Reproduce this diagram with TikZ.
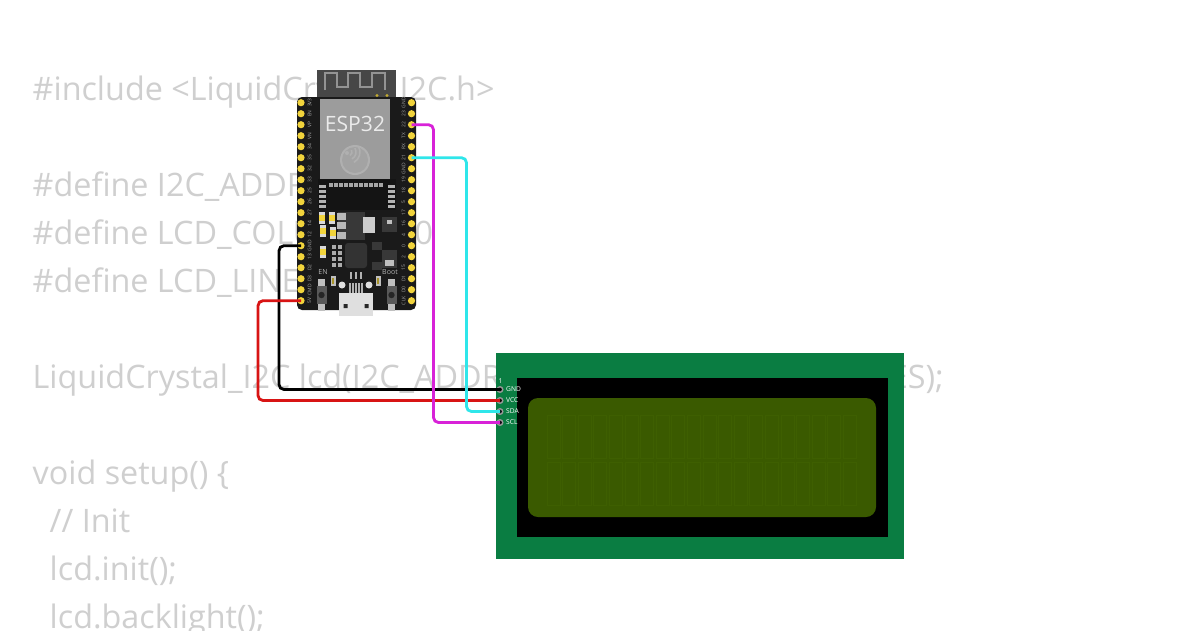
\documentclass[tikz,border=0pt]{standalone}
\usepackage{fontspec}
\setmainfont{Open Sans}
\definecolor{codegray}{HTML}{CFCFCF}
\definecolor{boardblack}{HTML}{1A1A1A}
\definecolor{padyellow}{HTML}{F2D43C}
\definecolor{lcdgreen}{HTML}{0A7D42}
\definecolor{lcdscreen}{HTML}{3A5A00}
\definecolor{lcdcell}{HTML}{3E5F01}
\definecolor{wirered}{HTML}{D81414}
\definecolor{wirepink}{HTML}{D822D8}
\definecolor{wirecyan}{HTML}{2FE6EA}
\tikzset{
  code/.style={anchor=base west,inner sep=0,text=codegray,font=\fontsize{9.19}{11}\selectfont},
  espin/.style={circle,fill=padyellow,inner sep=0,minimum size=0.072cm},
  espname/.style={inner sep=0,text=gray!70,rotate=90,font=\fontsize{1.4}{2}\selectfont},
  lcdpin/.style={circle,draw=gray!80,fill=black,line width=0.4pt,inner sep=0,minimum size=0.055cm},
  lcdname/.style={anchor=west,inner sep=0,text=white,font=\fontsize{1.9}{2}\selectfont},
  wire/.style={line width=0.8pt,rounded corners=0.05cm},
  darkpart/.style={fill=black!78},
  lightpart/.style={fill=gray!55}
}
\begin{document}
\begin{tikzpicture}[x=0.01cm,y=-0.01cm]
  \useasboundingbox[fill=white] (0,0) rectangle (1200,630);
  % code behind the parts
  \node[code] (C-1) at (32,100) {\#include <LiquidCrystal\_I2C.h>};
  \node[code] (C-2) at (32,196) {\#define I2C\_ADDR 0x27};
  \node[code] (C-3) at (32,244) {\#define LCD\_COLUMNS 20};
  \node[code] (C-4) at (32,292) {\#define LCD\_LINES 2};
  \node[code] (C-5) at (32,388) {LiquidCrystal\_I2C lcd(I2C\_ADDR, LCD\_COLUMNS, LCD\_LINES);};
  \node[code] (C-6) at (32,484) {void setup() \{};
  \node[code] (C-7) at (49,532) {// Init};
  \node[code] (C-8) at (49,580) {lcd.init();};
  \node[code] (C-9) at (49,628) {lcd.backlight();};
  % esp32 board
  \fill[black!72] (317,70) rectangle (396,100);
  \draw[gray!85,line width=0.5pt] (325,90) -- (325,73) -- (337,73) -- (337,87) -- (348,87) -- (348,73) -- (360,73) -- (360,87) -- (372,87) -- (372,73) -- (385,73) -- (385,90);
  \fill[padyellow!80!black] (377,95.5) circle (1.7) (387,95.5) circle (1.7);
  \fill[boardblack,rounded corners=0.05cm] (297,97) rectangle (416,310);
  \fill[gray!78] (320,99) rectangle (390,179);
  \node[inner sep=0,text=white!92!black,font=\fontsize{6}{8}\selectfont] (E-1) at (355,124) {ESP32};
  \fill[gray!62] (355,160) circle (15);
  \fill[gray!72] (355,160) circle (13);
  \foreach \r in {4,8,12}
    \draw[gray!62,line width=0.45pt] (348,152) ++(60:\r) arc (60:-30:\r);
  \fill[gray!62] (347,153) circle (2);
  % flash and its pads
  \fill[black!92] (318,179) rectangle (396,210);
  \foreach \x in {331,336,...,381}
    \fill[gray!70] (\x-1.6,183) rectangle (\x+1.6,187);
  \foreach \y in {186,191,...,206} {
    \fill[gray!60] (319,\y-1.5) rectangle (326,\y+1.5);
    \fill[gray!60] (388,\y-1.5) rectangle (395,\y+1.5);
  }
  % small parts
  \fill[darkpart] (338,212) rectangle (365,240);
  \foreach \y in {213,222,232}
    \fill[lightpart] (337,\y) rectangle (346,\y+7);
  \fill[gray!40] (363,217) rectangle (375,233);
  \foreach \x/\y in {322/218,332/218,323/231,333/233,323/252} {
    \fill[white!85!black] (\x-3,\y-6) rectangle (\x+3,\y+6);
    \fill[padyellow] (\x-3,\y-3) rectangle (\x+3,\y+3);
  }
  \foreach \y in {247,253,259,265} {
    \fill[gray!65] (332,\y-2) rectangle (336,\y+2);
    \fill[gray!65] (338,\y-2) rectangle (342,\y+2);
  }
  \fill[black!80,rounded corners=0.03cm] (345,243) rectangle (367,268);
  \fill[darkpart] (372,242) rectangle (382,250);
  \fill[darkpart] (372,262) rectangle (382,270);
  \fill[darkpart] (382,250) rectangle (397,268);
  \fill[darkpart] (382,217) rectangle (397,232);
  \fill[gray!50] (385,260) rectangle (394,266);
  \fill[gray!50] (387,220) rectangle (392,224);
  \node[inner sep=0,text=gray!60,font=\fontsize{2}{3}\selectfont] (E-2) at (323,272) {EN};
  \node[inner sep=0,text=gray!60,font=\fontsize{2}{3}\selectfont] (E-3) at (390,272.5) {Boot};
  % buttons
  \foreach \x in {321.5,391.5} {
    \fill[gray!50] (\x-3.5,279) rectangle (\x+3.5,311);
    \fill[black!65] (\x-5,286) rectangle (\x+5,304);
    \fill[black!85] (\x,295) circle (3.2);
  }
  \foreach \x in {333,378} {
    \fill[gray!50] (\x-2.5,276) rectangle (\x+2.5,286);
    \fill[padyellow!70!black] (\x-1.3,278) rectangle (\x+1.3,284);
  }
  \foreach \x in {351,356,361}
    \fill[gray!60] (\x-1.3,272) rectangle (\x+1.3,279);
  % usb
  \fill[gray!25] (342,285) circle (3.5) (369,285) circle (3.5);
  \foreach \x in {350,353,356,359,362}
    \fill[gray!60] (\x-0.7,283) rectangle (\x+0.7,293);
  \fill[gray!25] (339,293) -- (373,293) -- (373,316) -- (339,316) -- cycle;
  \fill[black!85] (343.5,304) rectangle (347.5,308) (364.5,304) rectangle (368.5,308);
  % pins
  \foreach \name [count=\i from 0] in {3V3,EN,VP,VN,34,35,32,33,25,26,27,14,12,GND,13,D2,D3,CMD,5V} {
    \node[espin] (L-\name) at (301,{102.7+11*\i}) {};
    \node[espname] at (309.5,{102.7+11*\i}) {\name};
  }
  \foreach \name [count=\i from 0] in {GND,23,22,TX,RX,21,GND2,19,18,5,17,16,4,0,2,15,D1,D0,CLK} {
    \node[espin] (R-\name) at (411.5,{102.7+11*\i}) {};
  }
  \foreach \name [count=\i from 0] in {GND,23,22,TX,RX,21,GND,19,18,5,17,16,4,0,2,15,D1,D0,CLK}
    \node[espname] at (403.5,{102.7+11*\i}) {\name};
  % lcd
  \fill[lcdgreen] (496,353) rectangle (904,559);
  \fill[black] (517,378) rectangle (888,537);
  \fill[lcdscreen,rounded corners=0.1cm] (528,398) rectangle (876,517);
  \foreach \c in {0,...,19}
    \foreach \y in {415,462}
      \draw[lcdcell,line width=0.2pt] ({547+15.6*\c},\y) rectangle ({560+15.6*\c},\y+43);
  \node[lcdname] (P-1) at (498,381) {1};
  \node[lcdname] (N-GND) at (505.5,389.5) {GND};
  \node[lcdname] (N-VCC) at (505.5,400.5) {VCC};
  \node[lcdname] (N-SDA) at (505.5,411.5) {SDA};
  \node[lcdname] (N-SCL) at (505.5,422.5) {SCL};
  \node[lcdpin] (P-GND) at (500,389.5) {};
  \node[lcdpin] (P-VCC) at (500,400.5) {};
  \node[lcdpin] (P-SDA) at (500,411.5) {};
  \node[lcdpin] (P-SCL) at (500,422.5) {};
  % wires
  \draw[wire,black] (L-GND.center) -- ++(-22,0) |- (P-GND.center);
  \draw[wire,wirered] (L-5V.center) -- ++(-43,0) |- (P-VCC.center);
  \draw[wire,wirepink] (R-22.center) -- ++(22,0) |- (P-SCL.center);
  \draw[wire,wirecyan] (R-21.center) -- ++(55,0) |- (P-SDA.center);
\end{tikzpicture}
\end{document}
